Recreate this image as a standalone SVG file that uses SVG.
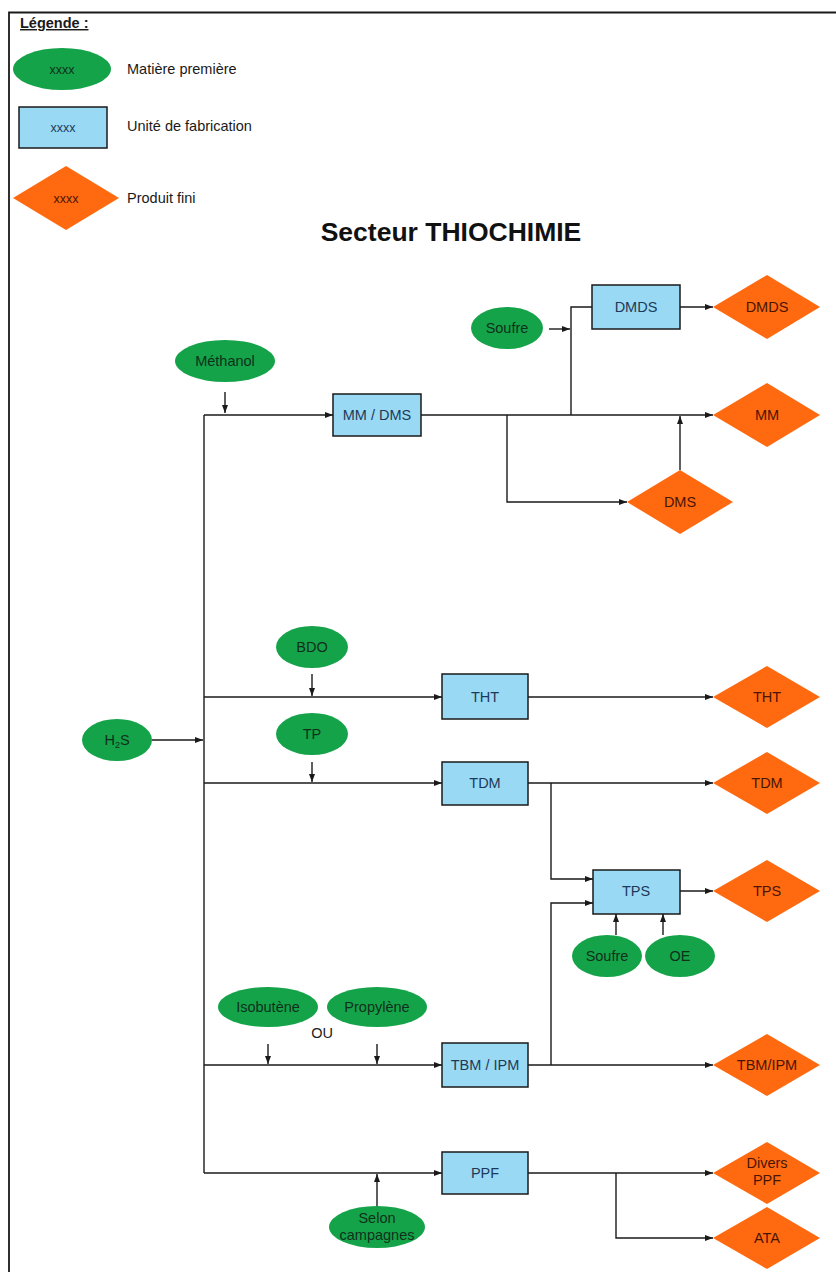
<svg xmlns="http://www.w3.org/2000/svg" width="836" height="1272" viewBox="0 0 836 1272">
  <style>
    text { font-family: "Liberation Sans", Arial, sans-serif; font-size: 14.5px; }
    .mp { fill: #15a34a; }
    .uf { fill: #9ad9f4; stroke: #1a1a1a; stroke-width: 1.5; }
    .pf { fill: #ff6a10; }
    .tmp { fill: #10301a; text-anchor: middle; }
    .tuf { fill: #1d3a58; text-anchor: middle; }
    .tpf { fill: #4a1505; text-anchor: middle; }
    .leg { fill: #1a1a1a; }
    .xs { font-size: 12.5px; }
    .title { font-size: 26.5px; font-weight: bold; fill: #111; text-anchor: middle; }
    .conn path { fill: none; stroke: #1a1a1a; stroke-width: 1.4; }
    .frame { fill: none; stroke: #1a1a1a; stroke-width: 1.8; }
  </style>
  <defs>
    <marker id="arr" viewBox="0 0 8 6" refX="8" refY="3" markerWidth="8" markerHeight="6" markerUnits="userSpaceOnUse" orient="auto">
      <path d="M0,0 L8,3 L0,6 Z" fill="#1a1a1a"/>
    </marker>
  </defs>

  <rect width="836" height="1272" fill="#ffffff"/>
  <!-- page frame -->
  <path class="frame" d="M9,1272 V12.5 H836"/>

  <!-- legend -->
  <g id="legende">
    <text x="20" y="28" font-weight="bold" fill="#1a1a1a" text-decoration="underline">Légende :</text>
    <ellipse class="mp" cx="62" cy="69" rx="49" ry="21"/>
    <text class="tmp xs" x="62" y="74">xxxx</text>
    <text class="leg" x="127" y="74">Matière première</text>
    <rect class="uf" x="19" y="107" width="88" height="41"/>
    <text class="tuf xs" x="63" y="132">xxxx</text>
    <text class="leg" x="127" y="131">Unité de fabrication</text>
    <polygon class="pf" points="13,198 66,166 119,198 66,230"/>
    <text class="tpf xs" x="66" y="203">xxxx</text>
    <text class="leg" x="127" y="203">Produit fini</text>
  </g>

  <text class="title" x="451" y="241">Secteur THIOCHIMIE</text>

  <!-- connectors -->
  <g id="connecteurs" class="conn">
    <path d="M152,740 H203" marker-end="url(#arr)"/>
    <path d="M204,415 V1173"/>
    <!-- MM / DMS line -->
    <path d="M204,415 H333" marker-end="url(#arr)"/>
    <path d="M225,392 V413" marker-end="url(#arr)"/>
    <path d="M421,415 H713" marker-end="url(#arr)"/>
    <path d="M507,415 V502 H627" marker-end="url(#arr)"/>
    <path d="M680,470 V416" marker-end="url(#arr)"/>
    <path d="M571,415 V307 H592"/>
    <path d="M549,329 H570" marker-end="url(#arr)"/>
    <path d="M680,307 H713" marker-end="url(#arr)"/>
    <!-- THT line -->
    <path d="M204,697 H442" marker-end="url(#arr)"/>
    <path d="M312,674 V696" marker-end="url(#arr)"/>
    <path d="M528,697 H713" marker-end="url(#arr)"/>
    <!-- TDM line -->
    <path d="M204,783 H442" marker-end="url(#arr)"/>
    <path d="M312,762 V782" marker-end="url(#arr)"/>
    <path d="M528,783 H713" marker-end="url(#arr)"/>
    <path d="M551,783 V879 H593" marker-end="url(#arr)"/>
    <!-- TPS -->
    <path d="M551,1065 V903 H593" marker-end="url(#arr)"/>
    <path d="M680,891 H713" marker-end="url(#arr)"/>
    <path d="M616,935 V914" marker-end="url(#arr)"/>
    <path d="M663,935 V914" marker-end="url(#arr)"/>
    <!-- TBM / IPM line -->
    <path d="M204,1065 H442" marker-end="url(#arr)"/>
    <path d="M268,1044 V1064" marker-end="url(#arr)"/>
    <path d="M377,1044 V1064" marker-end="url(#arr)"/>
    <path d="M528,1065 H713" marker-end="url(#arr)"/>
    <!-- PPF line -->
    <path d="M204,1173 H442" marker-end="url(#arr)"/>
    <path d="M377,1206 V1174" marker-end="url(#arr)"/>
    <path d="M528,1173 H713" marker-end="url(#arr)"/>
    <path d="M616,1173 V1238 H713" marker-end="url(#arr)"/>
  </g>

  <!-- raw materials -->
  <g id="h2s"><ellipse class="mp" cx="117" cy="740" rx="35" ry="21"/><text class="tmp" x="117" y="745">H<tspan font-size="9px" dy="3">2</tspan><tspan dy="-3">S</tspan></text></g>
  <g id="methanol"><ellipse class="mp" cx="225" cy="361" rx="50" ry="21"/><text class="tmp" x="225" y="366">Méthanol</text></g>
  <g id="soufre-dmds"><ellipse class="mp" cx="507" cy="328" rx="36" ry="21"/><text class="tmp" x="507" y="333">Soufre</text></g>
  <g id="bdo"><ellipse class="mp" cx="312" cy="647" rx="36" ry="21"/><text class="tmp" x="312" y="652">BDO</text></g>
  <g id="tp"><ellipse class="mp" cx="312" cy="734" rx="36" ry="21"/><text class="tmp" x="312" y="739">TP</text></g>
  <g id="soufre-tps"><ellipse class="mp" cx="607" cy="956" rx="35" ry="21"/><text class="tmp" x="607" y="961">Soufre</text></g>
  <g id="oe"><ellipse class="mp" cx="680" cy="956" rx="35" ry="21"/><text class="tmp" x="680" y="961">OE</text></g>
  <g id="isobutene"><ellipse class="mp" cx="268" cy="1007" rx="50" ry="20"/><text class="tmp" x="268" y="1012">Isobutène</text></g>
  <g id="propylene"><ellipse class="mp" cx="377" cy="1007" rx="50" ry="20"/><text class="tmp" x="377" y="1012">Propylène</text></g>
  <text x="322" y="1038" text-anchor="middle" fill="#1a1a1a">OU</text>
  <g id="selon-campagnes"><ellipse class="mp" cx="377" cy="1227" rx="48" ry="21"/><text class="tmp" x="377" y="1223">Selon</text><text class="tmp" x="377" y="1240">campagnes</text></g>

  <!-- production units -->
  <g id="u-mm-dms"><rect class="uf" x="333" y="394" width="88" height="42"/><text class="tuf" x="377" y="420">MM / DMS</text></g>
  <g id="u-dmds"><rect class="uf" x="592" y="285" width="88" height="44"/><text class="tuf" x="636" y="312">DMDS</text></g>
  <g id="u-tht"><rect class="uf" x="442" y="674" width="86" height="45"/><text class="tuf" x="485" y="702">THT</text></g>
  <g id="u-tdm"><rect class="uf" x="442" y="762" width="86" height="43"/><text class="tuf" x="485" y="788">TDM</text></g>
  <g id="u-tps"><rect class="uf" x="593" y="870" width="87" height="44"/><text class="tuf" x="636" y="896">TPS</text></g>
  <g id="u-tbm-ipm"><rect class="uf" x="442" y="1043" width="86" height="44"/><text class="tuf" x="485" y="1070">TBM / IPM</text></g>
  <g id="u-ppf"><rect class="uf" x="442" y="1152" width="86" height="42"/><text class="tuf" x="485" y="1178">PPF</text></g>

  <!-- finished products -->
  <g id="p-dmds"><polygon class="pf" points="713,307 767,275 820,307 767,339"/><text class="tpf" x="767" y="312">DMDS</text></g>
  <g id="p-mm"><polygon class="pf" points="713,415 767,383 820,415 767,447"/><text class="tpf" x="767" y="420">MM</text></g>
  <g id="p-dms"><polygon class="pf" points="627,502 680,470 733,502 680,534"/><text class="tpf" x="680" y="507">DMS</text></g>
  <g id="p-tht"><polygon class="pf" points="713,697 767,666 820,697 767,728"/><text class="tpf" x="767" y="702">THT</text></g>
  <g id="p-tdm"><polygon class="pf" points="713,783 767,752 820,783 767,814"/><text class="tpf" x="767" y="788">TDM</text></g>
  <g id="p-tps"><polygon class="pf" points="713,891 767,860 820,891 767,922"/><text class="tpf" x="767" y="896">TPS</text></g>
  <g id="p-tbm-ipm"><polygon class="pf" points="713,1065 767,1034 820,1065 767,1096"/><text class="tpf" x="767" y="1070">TBM/IPM</text></g>
  <g id="p-divers-ppf"><polygon class="pf" points="713,1173 767,1142 820,1173 767,1204"/><text class="tpf" x="767" y="1168">Divers</text><text class="tpf" x="767" y="1185">PPF</text></g>
  <g id="p-ata"><polygon class="pf" points="713,1238 767,1207 820,1238 767,1269"/><text class="tpf" x="767" y="1243">ATA</text></g>
</svg>
